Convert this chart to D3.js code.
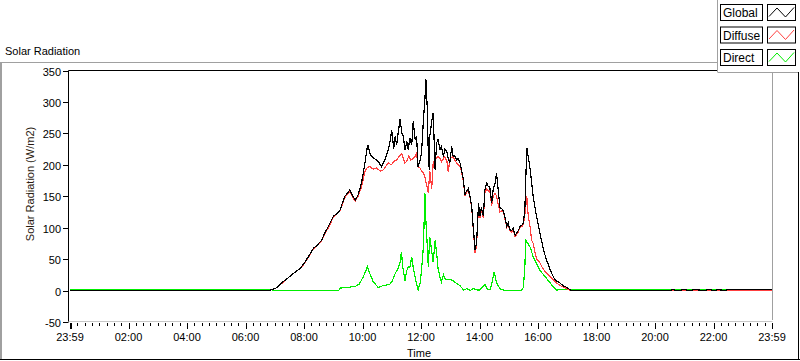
<!DOCTYPE html>
<meta charset="utf-8">
<head>
	<title>Solar Radiation</title>
	<script src="https://d3js.org/d3.v7.min.js"></script>
	<style>
		body { margin: 0; background: #fff; overflow: hidden; }
		text { font-family: "Liberation Sans", Arial, sans-serif; fill: #000; }
	</style>
</head>
<body>
<script>

	// data: [time, W/m2]
	const globalData = [
		["00:00",0],["06:45",0],["07:00",3],["07:08",8],["07:16",14],["07:26",20],["07:37",27],["07:51",35],
		["08:00",44],["08:08",54],["08:18",67],["08:26",72],["08:35",80],["08:42",92],["08:49",102],["08:59",118],
		["09:06",122],["09:13",128],["09:18",140],["09:23",150],["09:33",160],["09:38",152],["09:44",144],["09:50",152],
		["09:57",171],["10:04",203],["10:08",224],["10:10",232],["10:14",219],["10:18",213],["10:23",210],["10:28",208],
		["10:33",203],["10:38",197],["10:45",208],["10:52",224],["10:56",240],["10:59",255],["11:03",225],["11:06",245],
		["11:09",232],["11:12",250],["11:16",272],["11:20",250],["11:23",245],["11:26",224],["11:30",237],["11:33",224],
		["11:36",243],["11:40",232],["11:43",269],["11:47",240],["11:50",245],["11:53",197],["11:57",207],["12:00",218],
		["12:04",272],["12:07",304],["12:09",336],["12:12",288],["12:14",214],["12:16",192],["12:17",245],["12:21",269],
		["12:24",283],["12:28",192],["12:31",235],["12:34",240],["12:38",224],["12:41",229],["12:45",213],["12:48",225],
		["12:52",221],["12:55",210],["12:58",203],["13:02",229],["13:05",213],["13:08",215],["13:12",208],["13:15",210],
		["13:19",203],["13:22",192],["13:26",176],["13:29",152],["13:32",158],["13:36",162],["13:40",148],["13:43",134],
		["13:46",102],["13:50",65],["13:53",75],["13:57",139],["14:00",118],["14:03",132],["14:07",118],["14:10",160],
		["14:14",171],["14:17",165],["14:20",166],["14:24",139],["14:27",160],["14:31",171],["14:34",187],["14:38",155],
		["14:41",132],["14:45",130],["14:48",127],["14:51",118],["14:55",102],["14:58",108],["15:01",97],["15:05",95],
		["15:08",100],["15:12",88],["15:15",91],["15:19",96],["15:22",102],["15:26",104],["15:29",107],["15:32",129],
		["15:36",227],["15:39",213],["15:43",192],["15:46",171],["15:49",150],["15:53",132],["15:56",118],["16:00",104],
		["16:03",91],["16:07",77],["16:10",65],["16:14",55],["16:17",47],["16:21",40],["16:24",33],["16:29",24],
		["16:34",17],["16:44",12],["16:50",8],["16:58",5],["17:05",1],["17:10",0],["20:30",0],["20:35",1.6],
		["20:45",0],["21:00",1.6],["21:10",0],["21:20",1.6],["21:40",0],["21:50",1.6],["22:00",0],["22:10",1.6],
		["22:20",0],["22:30",1.6],["23:59",1.6]
	];

	const diffuseData = [
		["00:00",0],["06:45",0],["07:00",3],["07:08",8],["07:16",13],["07:26",20],["07:37",27],["07:51",35],
		["08:00",43],["08:08",53],["08:18",66],["08:26",71],["08:35",79],["08:42",91],["08:49",100],["08:59",116],
		["09:06",121],["09:13",127],["09:18",138],["09:23",148],["09:33",158],["09:38",150],["09:44",142],["09:50",150],
		["09:57",165],["10:04",189],["10:09",196],["10:14",197],["10:21",193],["10:28",195],["10:35",190],["10:42",192],
		["10:47",198],["10:52",203],["10:58",200],["11:03",205],["11:09",208],["11:14",213],["11:19",218],["11:23",210],
		["11:26",203],["11:30",206],["11:34",214],["11:38",208],["11:43",210],["11:47",214],["11:50",219],["11:53",197],
		["11:57",195],["12:00",190],["12:04",187],["12:07",181],["12:10",170],["12:14",155],["12:17",190],["12:21",162],
		["12:24",203],["12:28",208],["12:34",213],["12:38",210],["12:41",205],["12:45",210],["12:48",213],["12:52",206],
		["12:55",188],["12:58",208],["13:02",212],["13:05",213],["13:08",208],["13:12",203],["13:15",200],["13:19",198],
		["13:22",190],["13:26",174],["13:29",150],["13:32",156],["13:36",160],["13:40",146],["13:43",132],["13:46",100],
		["13:50",60],["13:53",72],["13:57",135],["14:00",116],["14:03",128],["14:07",115],["14:10",155],["14:14",162],
		["14:17",158],["14:20",160],["14:24",135],["14:27",150],["14:31",155],["14:34",150],["14:38",135],["14:41",125],
		["14:45",127],["14:48",125],["14:51",115],["14:55",100],["14:58",106],["15:01",95],["15:05",93],["15:08",98],
		["15:12",86],["15:15",89],["15:19",94],["15:22",100],["15:26",102],["15:29",105],["15:32",120],["15:36",150],
		["15:39",118],["15:43",100],["15:46",80],["15:49",75],["15:53",60],["15:56",50],["16:00",47],["16:03",44],
		["16:07",38],["16:10",34],["16:17",27],["16:24",22],["16:34",14],["16:44",8],["16:58",3],["17:05",0],["23:59",0]
	];

	const directData = [
		["00:00",1.6],["06:50",1.6],["07:00",0],["09:10",0],["09:13",4],["09:30",5],["09:45",7],["09:52",10],
		["10:00",21],["10:05",30],["10:09",38],["10:14",27],["10:21",14],["10:31",5],["10:42",8],["10:50",9],
		["10:55",10],["11:00",15],["11:06",27],["11:12",35],["11:16",44],["11:19",62],["11:21",40],["11:23",32],
		["11:26",16],["11:30",32],["11:33",38],["11:36",37],["11:40",53],["11:43",37],["11:47",21],["11:50",11],
		["11:53",1],["11:57",11],["12:00",32],["12:04",70],["12:07",155],["12:09",112],["12:12",69],["12:14",38],
		["12:17",85],["12:21",62],["12:24",45],["12:28",80],["12:31",60],["12:34",35],["12:38",21],["12:41",14],
		["12:45",25],["12:48",19],["12:52",17],["12:58",18],["13:05",16],["13:12",11],["13:19",8],["13:26",1],
		["13:33",3],["13:40",0],["13:46",3],["13:55",1],["14:00",1],["14:06",6],["14:10",10],["14:14",3],
		["14:20",1],["14:24",10],["14:29",30],["14:34",12],["14:41",3],["14:51",0],["15:25",0],["15:29",5],
		["15:32",37],["15:34",80],["15:38",75],["15:43",69],["15:49",54],["15:56",43],["16:03",32],["16:17",19],
		["16:31",5],["16:38",0],["16:40",1.6],["23:59",1.6]
	];

	const seriesNames = ["Global", "Diffuse", "Direct"];
	const seriesColors = ["#000000", "#ff4040", "#00ee00"];
	const xTickLabels = ["23:59","02:00","04:00","06:00","08:00","10:00","12:00","14:00","16:00","18:00","20:00","22:00","23:59"];
	const yTicks = [-50, 0, 50, 100, 150, 200, 250, 300, 350];

	const width = 800, height = 361;
	const plot = {left: 68.5, right: 772, top: 70.5, bottom: 322};

	const toMin = s => { const p = s.split(":"); return +p[0] * 60 + +p[1]; };

	const x = d3.scaleLinear().domain([-1, 1439]).range([70, 772]);
	const y = d3.scaleLinear().domain([-50, 350]).range([plot.bottom, plot.top]);

	const svg = d3.select("body").append("svg")
		.attr("width", width)
		.attr("height", height);

	svg.append("rect").attr("width", width).attr("height", height).attr("fill", "#fff");

	// outer frame
	svg.append("line").attr("x1", 0).attr("x2", 718).attr("y1", 62.5).attr("y2", 62.5).attr("stroke", "#a0a0a0");
	svg.append("line").attr("x1", 1).attr("x2", 1).attr("y1", 62).attr("y2", 359).attr("stroke", "#a0a0a0").attr("stroke-width", 2);
	svg.append("line").attr("x1", 0).attr("x2", 800).attr("y1", 359.5).attr("y2", 359.5).attr("stroke", "#000");
	svg.append("line").attr("x1", 798.5).attr("x2", 798.5).attr("y1", 72).attr("y2", 360).attr("stroke", "#000");

	svg.append("text").attr("x", 5).attr("y", 55).style("font-size", "11px").text("Solar Radiation");

	// plot area borders
	svg.append("line").attr("x1", plot.left).attr("x2", 718).attr("y1", plot.top).attr("y2", plot.top).attr("stroke", "#000");
	svg.append("line").attr("x1", plot.left).attr("x2", plot.left).attr("y1", plot.top).attr("y2", plot.bottom + 0.5).attr("stroke", "#000");
	svg.append("line").attr("x1", 772.5).attr("x2", 772.5).attr("y1", plot.top).attr("y2", 320).attr("stroke", "#a0a0a0");
	svg.append("line").attr("x1", plot.left).attr("x2", 772.5).attr("y1", plot.bottom - 0.5).attr("y2", plot.bottom - 0.5).attr("stroke", "#c8c8c8");

	// y axis ticks
	const yAxis = svg.append("g");
	yAxis.selectAll("line").data(yTicks).enter().append("line")
		.attr("x1", 63).attr("x2", 68)
		.attr("y1", d => Math.round(y(d)) + 0.5).attr("y2", d => Math.round(y(d)) + 0.5)
		.attr("stroke", "#000");
	yAxis.selectAll("text").data(yTicks).enter().append("text")
		.attr("x", 61).attr("y", d => Math.round(y(d)) + 5)
		.attr("text-anchor", "end").style("font-size", "11px")
		.text(d => d);

	svg.append("text")
		.attr("transform", "translate(34,184) rotate(-90)")
		.attr("text-anchor", "middle").style("font-size", "11px").style("fill", "#2a1a10")
		.text("Solar Radiation (W/m2)");

	// x axis ticks: minor every 15 min, labels every 2 h
	const xAxis = svg.append("g");
	const minor = d3.range(-1, 1440, 15);
	xAxis.selectAll("line.minor").data(minor).enter().append("line")
		.attr("class", "minor")
		.attr("x1", d => Math.round(x(d)) + 0.5).attr("x2", d => Math.round(x(d)) + 0.5)
		.attr("y1", 323).attr("y2", (d, i) => i % 8 === 0 ? 329 : 326)
		.attr("stroke", "#000");
	xAxis.append("line").attr("x1", 71.5).attr("x2", 71.5).attr("y1", 323).attr("y2", 329).attr("stroke", "#000");
	xAxis.selectAll("text").data(xTickLabels).enter().append("text")
		.attr("x", (d, i) => x(-1 + i * 120))
		.attr("y", 341)
		.attr("text-anchor", "middle").style("font-size", "11px")
		.text(d => d);

	svg.append("text").attr("x", 419).attr("y", 357).attr("text-anchor", "middle").style("font-size", "11px").text("Time");

	// curves
	svg.append("clipPath").attr("id", "clip").append("rect")
		.attr("x", 69).attr("y", 71).attr("width", 703).attr("height", 250);

	const line = d3.line().x(d => x(toMin(d[0]))).y(d => y(d[1]));
	const curves = svg.append("g").attr("clip-path", "url(#clip)");
	const drawOrder = [[directData, 2], [diffuseData, 1], [globalData, 0]];
	drawOrder.forEach(([data, i]) => {
		curves.append("path")
			.datum(data)
			.attr("d", line)
			.attr("fill", "none")
			.attr("stroke", seriesColors[i])
			.attr("stroke-width", 1.2)
			.style("shape-rendering", "crispEdges");
	});

	// legend
	const legend = svg.append("g");
	legend.append("rect").attr("x", 718).attr("y", 0).attr("width", 82).attr("height", 72).attr("fill", "#fff");
	legend.append("line").attr("x1", 717.5).attr("x2", 717.5).attr("y1", 0).attr("y2", 72).attr("stroke", "#a0a0a0");
	legend.append("line").attr("x1", 717.5).attr("x2", 798).attr("y1", 72.5).attr("y2", 72.5).attr("stroke", "#a0a0a0");
	seriesNames.forEach((name, i) => {
		const top = 4.5 + i * 22.5;
		legend.append("rect").attr("x", 720.5).attr("y", top).attr("width", 42).attr("height", 16)
			.attr("fill", "#fff").attr("stroke", "#000");
		legend.append("text").attr("x", 723).attr("y", top + 12.5).style("font-size", "12px").text(name);
		legend.append("rect").attr("x", 767.5).attr("y", top).attr("width", 28).attr("height", 16)
			.attr("fill", "#fff").attr("stroke", "#000");
		legend.append("path")
			.attr("d", `M${769},${top + 12} L${777},${top + 3.5} L${785.5},${top + 12.5} L${794},${top + 3}`)
			.attr("fill", "none").attr("stroke", seriesColors[i]);
	});

</script>
</body>
</html>
